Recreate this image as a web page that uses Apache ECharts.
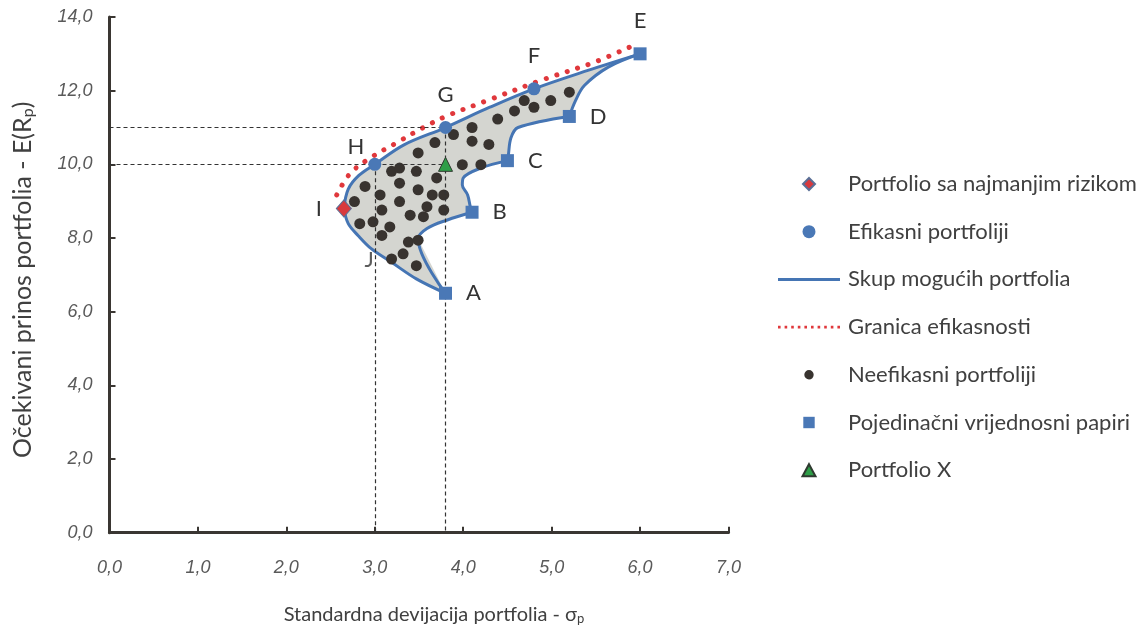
<!DOCTYPE html>
<html>
<head>
<meta charset="utf-8">
<script src="https://cdn.jsdelivr.net/npm/echarts@6/dist/echarts.min.js"></script>
<style>
html,body{margin:0;padding:0;background:#fff;}
#c{width:1146px;height:632px;}
</style>
</head>
<body>
<div id="c"></div>
<script>
// ---- data ----
const xTicks = [0, 1, 2, 3, 4, 5, 6, 7];
const yTicks = [0, 2, 4, 6, 8, 10, 12, 14];

// individual securities (A..E)
const securityNames = ['A', 'B', 'C', 'D', 'E'];
const securityX = [3.8, 4.1, 4.5, 5.2, 6.0];
const securityY = [6.5, 8.7, 10.1, 11.3, 13.0];

// efficient portfolios (H, G, F)
const efficientNames = ['H', 'G', 'F'];
const efficientX = [3.0, 3.8, 4.8];
const efficientY = [10.0, 11.0, 12.05];

// minimum-risk portfolio I
const minRiskName = 'I';
const minRiskPoint = [2.65, 8.8];

// portfolio X
const portfolioX = [3.8, 10.0];

// point J (on the lower boundary, label only)
const jName = 'J';
const jPoint = [3.0, 7.65];

// inefficient portfolios
const inefficientX = [5.20, 4.99, 4.69, 4.80, 4.58, 4.39, 4.10, 3.89, 4.10, 4.29, 3.68, 3.49, 3.99, 4.20, 3.19, 3.28, 3.47, 3.70, 2.89, 3.28,
                      3.49, 3.06, 3.65, 3.78, 2.77, 3.28, 3.59, 3.78, 3.08, 3.40, 3.55, 2.83, 2.98, 3.17, 3.08, 3.38, 3.49, 3.32, 3.19, 3.47];
const inefficientY = [11.96, 11.73, 11.73, 11.55, 11.45, 11.23, 11.00, 10.81, 10.63, 10.54, 10.59, 10.31, 9.99, 9.99, 9.81, 9.90, 9.81, 9.63, 9.40, 9.49,
                      9.31, 9.17, 9.17, 9.17, 8.99, 8.99, 8.85, 8.76, 8.76, 8.62, 8.58, 8.39, 8.44, 8.30, 8.07, 7.89, 7.94, 7.57, 7.43, 7.25];

// boundary of the feasible set, as segments
const boundaryUpper = [[2.65, 8.8], [2.70, 9.33], [2.82, 9.70], [3.0, 10.0], [3.33, 10.53], [3.8, 11.0], [4.3, 11.55], [4.8, 12.05], [5.41, 12.55], [6.0, 13.0]];
const boundaryED = [[6.0, 13.0], [5.64, 12.64], [5.37, 12.14], [5.27, 11.73], [5.2, 11.3]];
const boundaryDC = [[5.2, 11.3], [4.62, 11.0], [4.54, 10.72], [4.51, 10.24], [4.5, 10.1]];
const boundaryCB = [[4.5, 10.1], [4.2, 9.9], [4.0, 9.63], [3.99, 9.44], [4.05, 9.17], [4.08, 8.85], [4.1, 8.7]];
const boundaryBA = [[4.1, 8.7], [3.82, 8.49], [3.59, 8.26], [3.49, 7.98], [3.8, 6.5]];
const boundaryAI = [[3.8, 6.5], [3.47, 6.89], [3.19, 7.34], [2.96, 7.71], [2.81, 8.07], [2.70, 8.39], [2.65, 8.8]];

// efficient frontier (dotted)
const frontier = [[2.57, 9.17], [2.71, 9.72], [2.92, 10.13], [3.25, 10.59], [3.55, 11.0], [3.82, 11.32], [4.27, 11.73], [4.88, 12.28], [5.49, 12.78], [5.99, 13.3]];

// guide lines (dashed)
const guideLines = [
  [[0, 11.0], [3.8, 11.0]],
  [[0, 10.0], [3.8, 10.0]],
  [[3.0, 10.0], [3.0, 0]],
  [[3.8, 11.0], [3.8, 0]]
];

const legendNames = ['Portfolio sa najmanjim rizikom', 'Efikasni portfoliji', 'Skup mogućih portfolia',
                     'Granica efikasnosti', 'Neefikasni portfoliji', 'Pojedinačni vrijednosni papiri', 'Portfolio X'];

// ---- styles (not data) ----
const labelPos = {
  A: {position: 'right', distance: 14},
  B: {position: 'right', distance: 14},
  C: {position: 'right', distance: 14},
  D: {position: 'right', distance: 14},
  E: {position: 'top', distance: 15},
  F: {position: 'top', distance: 15},
  G: {position: 'top', distance: 15},
  H: {position: 'left', distance: 4, offset: [0, -17]},
  I: {position: 'left', distance: 14},
  J: {position: 'left', distance: 0, offset: [0, 9]}
};
const TXT = '#333333';
const BLUE = '#4575b4';
const labelFont = {fontFamily: 'Lato', fontSize: 22, color: TXT};
function lab(n) { return Object.assign({show: true, formatter: '{b}'}, labelFont, labelPos[n]); }

const boundarySegments = [boundaryUpper, boundaryED, boundaryDC, boundaryCB, boundaryBA, boundaryAI];
const polygonPts = [].concat(boundaryUpper, boundaryED.slice(1), boundaryDC.slice(1), boundaryCB.slice(1), boundaryBA.slice(1), boundaryAI.slice(1));

const fmt = v => v.toFixed(1).replace('.', ',');

// legend icons (shapes centred in a 62x14 box)
let dotted = 'path://';
for (let i = 0; i < 10; i++) { const x = i * 6.6; dotted += 'M' + x + ',0 h2.6 v2.6 h-2.6 Z '; }
const legendIcons = {
  'Portfolio sa najmanjim rizikom': 'path://M0,0 M14,14 M7,1 L13,7 L7,13 L1,7 Z',
  'Efikasni portfoliji': 'path://M0,0 M14,14 M7,0.5 A6.5,6.5 0 1 1 6.99,0.5 Z',
  'Skup mogućih portfolia': 'path://M0,0 L62,0 L62,3 L0,3 Z',
  'Granica efikasnosti': dotted,
  'Neefikasni portfoliji': 'path://M0,0 M14,14 M7,2.3 A4.7,4.7 0 1 1 6.99,2.3 Z',
  'Pojedinačni vrijednosni papiri': 'path://M0,0 M14,14 M1.3,1.3 H12.7 V12.7 H1.3 Z',
  'Portfolio X': 'path://M0,0 M14,14 M7,1 L13.5,13 L0.5,13 Z'
};

const series = [];
series.push({
  type: 'custom',
  silent: true,
  z: 1,
  data: polygonPts,
  renderItem: function (params, api) {
    if (params.dataIndex !== 0) return;
    const pts = polygonPts.map(p => api.coord(p));
    return {type: 'polygon', shape: {points: pts}, style: {fill: '#d4d5d0'}};
  }
});
boundarySegments.forEach(seg => {
  series.push({
    name: 'Skup mogućih portfolia', type: 'line', data: seg, smooth: 0.35, symbol: 'none',
    lineStyle: {color: BLUE, width: 3}, itemStyle: {color: BLUE}, z: 3, silent: true
  });
});
series.push({
  name: 'Granica efikasnosti', type: 'line', data: frontier, smooth: 0.35, symbol: 'none',
  lineStyle: {color: '#e0383c', width: 5, type: [0.1, 11], cap: 'round'}, itemStyle: {color: '#e0383c'}, z: 2, silent: true
});
series.push({
  type: 'line', data: [], symbol: 'none', silent: true, z: 2,
  markLine: {
    silent: true, symbol: 'none', label: {show: false},
    lineStyle: {color: '#333', width: 1.2, type: [4, 3]},
    data: guideLines.map(l => [{coord: l[0]}, {coord: l[1]}])
  }
});
series.push({
  name: 'Neefikasni portfoliji', type: 'scatter', symbol: 'circle', symbolSize: 11, z: 4,
  itemStyle: {color: '#38332f', opacity: 1},
  data: inefficientX.map((x, i) => [x, inefficientY[i]])
});
series.push({
  name: 'Efikasni portfoliji', type: 'scatter', symbol: 'circle', symbolSize: 13, z: 5,
  itemStyle: {color: '#4a78b6', opacity: 1},
  data: efficientNames.map((n, i) => ({name: n, value: [efficientX[i], efficientY[i]], label: lab(n)}))
});
series.push({
  name: 'Pojedinačni vrijednosni papiri', type: 'scatter', symbol: 'rect', symbolSize: 13, z: 5,
  itemStyle: {color: '#4a78b6', opacity: 1},
  data: securityNames.map((n, i) => ({name: n, value: [securityX[i], securityY[i]], label: lab(n)}))
});
series.push({
  name: 'Portfolio sa najmanjim rizikom', type: 'scatter', symbol: 'diamond', symbolSize: [15, 17], z: 6,
  itemStyle: {color: '#d8393d', borderColor: '#5a6f96', borderWidth: 1, opacity: 1},
  data: [{name: minRiskName, value: minRiskPoint, label: lab(minRiskName)}]
});
series.push({
  name: 'Portfolio X', type: 'scatter', symbol: 'triangle', symbolSize: 14, z: 6,
  itemStyle: {color: '#2e9e48', borderColor: '#2f3a30', borderWidth: 1, opacity: 1},
  data: [portfolioX]
});
series.push({
  type: 'scatter', symbol: 'circle', symbolSize: 2, z: 6, silent: true,
  itemStyle: {color: 'rgba(0,0,0,0)'},
  data: [{name: jName, value: jPoint, label: lab(jName)}]
});

const axisCol = '#3a3632';
const tickLabel = {fontFamily: 'Liberation Sans', fontStyle: 'italic', fontSize: 18, color: '#5a5a5a'};
function titleStyle(size, pad) {
  return {
    fontFamily: 'Lato', fontSize: size, color: '#404040', padding: pad,
    rich: {sub: {fontFamily: 'Lato', fontSize: Math.round(size * 0.65), color: '#404040', verticalAlign: 'bottom', padding: [10, 0, 0, 0]}}
  };
}

const option = {
  backgroundColor: '#ffffff',
  animation: false,
  grid: {left: 109.5, right: 417.5, top: 17, bottom: 99.3, containLabel: false},
  xAxis: {
    type: 'value', min: xTicks[0], max: xTicks[xTicks.length - 1], interval: 1,
    name: 'Standardna devijacija portfolia - σ{sub|p}', nameLocation: 'middle', nameGap: 70,
    nameTextStyle: titleStyle(20, [0, 0, 0, 30]),
    axisLine: {lineStyle: {color: axisCol, width: 3}},
    axisTick: {inside: true, length: 6, lineStyle: {color: axisCol, width: 2}},
    axisLabel: Object.assign({margin: 26, formatter: fmt}, tickLabel),
    splitLine: {show: false}
  },
  yAxis: {
    type: 'value', min: yTicks[0], max: yTicks[yTicks.length - 1], interval: 2,
    name: 'Očekivani prinos portfolia - E(R{sub|p})', nameLocation: 'middle', nameGap: 74,
    nameTextStyle: titleStyle(25, [0, 10, 0, 0]),
    axisLine: {lineStyle: {color: axisCol, width: 3}},
    axisTick: {inside: true, length: 6, lineStyle: {color: axisCol, width: 2}},
    axisLabel: Object.assign({margin: 17, formatter: fmt}, tickLabel),
    splitLine: {show: false}
  },
  legend: {
    orient: 'vertical', left: 778, top: 173, itemWidth: 62, itemHeight: 14, itemGap: 25.7,
    padding: 0, selectedMode: false, symbolKeepAspect: true,
    data: legendNames.map(n => ({name: n, icon: legendIcons[n]})),
    textStyle: {fontFamily: 'Lato', fontSize: 22, color: '#404040', padding: [0, 0, 0, 3]}
  },
  series: series
};

const chart = echarts.init(document.getElementById('c'), null, {renderer: 'canvas'});
chart.setOption(option);
</script>
</body>
</html>
